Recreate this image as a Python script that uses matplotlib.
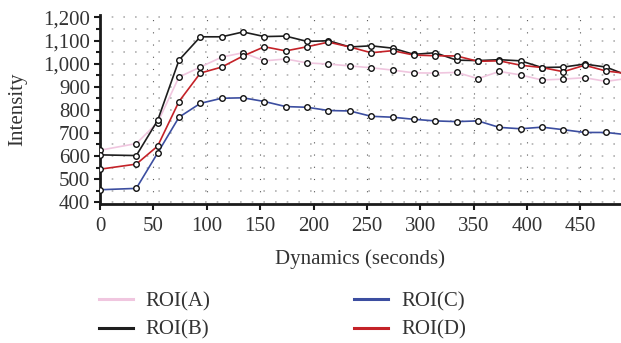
import matplotlib.pyplot as plt
import matplotlib.ticker as mticker
import numpy as np

plt.rcParams['font.family'] = ['Liberation Serif', 'DejaVu Serif']

# sample times (s); the last one sits just past the right edge
t = [0, 34, 54, 74, 94, 114, 134, 154, 174, 194, 214, 234, 254, 274,
     294, 314, 334, 354, 374, 394, 414, 434, 454, 474, 494]

roi_a = [625, 654, 745, 942, 985, 1028, 1047, 1012, 1020, 1003, 998, 990,
         982, 972, 960, 959, 962, 935, 966, 951, 929, 933, 939, 923, 936]
roi_b = [605, 602, 754, 1015, 1116, 1116, 1137, 1117, 1119, 1096, 1099, 1072,
         1077, 1067, 1040, 1047, 1015, 1013, 1017, 1012, 983, 985, 998, 985, 949]
roi_c = [454, 460, 613, 768, 828, 850, 852, 836, 814, 811, 797, 795,
         772, 768, 759, 752, 749, 752, 724, 718, 725, 714, 702, 702, 692]
roi_d = [543, 565, 643, 836, 959, 985, 1033, 1073, 1055, 1073, 1093, 1072,
         1047, 1056, 1037, 1034, 1033, 1010, 1012, 993, 983, 965, 993, 968, 957]

labels = ['ROI(A)', 'ROI(B)', 'ROI(C)', 'ROI(D)']
colors = ['#f0c6df', '#1e1e1e', '#3c4ea0', '#c42228']

fs = 15
fig = plt.figure(figsize=(6.21, 3.43), dpi=100)
ax = fig.add_axes([0.161, 0.405, 0.839, 0.551])

for y, lab, c in zip([roi_a, roi_b, roi_c, roi_d], labels, colors):
    ax.plot(t, y, color=c, lw=1.2, label=lab, zorder=3)
    ax.plot(t, y, ls='none', marker='o', ms=4, mfc='white', mec='#111111',
            mew=1.0, zorder=4)

ax.set_xlim(0, 488)
ax.set_ylim(392, 1210)
ax.xaxis.set_major_locator(mticker.MultipleLocator(50))
ax.yaxis.set_major_locator(mticker.MultipleLocator(100))
ax.yaxis.set_minor_locator(mticker.MultipleLocator(50))
ax.yaxis.set_major_formatter(mticker.FuncFormatter(lambda v, p: '{:,.0f}'.format(v)))

ax.grid(axis='y', which='both', color='#b0b0b0', lw=1.2, ls=(0, (1, 6)))
ax.grid(axis='x', which='major', color='#555555', lw=0.8, ls=(0, (1, 10)))
ax.set_axisbelow(True)

for s in ['top', 'right']:
    ax.spines[s].set_visible(False)
for s in ['left', 'bottom']:
    ax.spines[s].set_linewidth(2)
    ax.spines[s].set_color('#1a1a1a')

ax.tick_params(axis='both', which='both', direction='out', width=1.5,
               colors='#1a1a1a', labelcolor='#333333', labelsize=fs)
ax.tick_params(axis='both', which='major', length=4)
ax.tick_params(axis='y', which='minor', length=3)
ax.tick_params(axis='x', pad=5)
ax.tick_params(axis='y', pad=3)

ax.set_ylabel('Intensity', fontsize=fs, color='#333333')
ax.yaxis.set_label_coords(-0.14, 0.5)
ax.set_xlabel('Dynamics (seconds)', fontsize=fs, color='#333333')
ax.xaxis.set_label_coords(0.5, -0.24)

# legend: two separate columns placed under the axes
handles, labs = ax.get_legend_handles_labels()
for i, xpix in enumerate([99, 354]):
    leg = fig.legend(handles[2 * i:2 * i + 2], labs[2 * i:2 * i + 2],
                     frameon=False, fontsize=fs, loc='upper left',
                     bbox_to_anchor=(xpix / 621, 1 - 292 / 343),
                     bbox_transform=fig.transFigure, handlelength=1.63,
                     handletextpad=0.62, labelspacing=0.42,
                     borderaxespad=0, borderpad=0, labelcolor='#333333')
    for line in leg.get_lines():
        line.set_linewidth(2.2)

fig.savefig('out.png', dpi=100)
